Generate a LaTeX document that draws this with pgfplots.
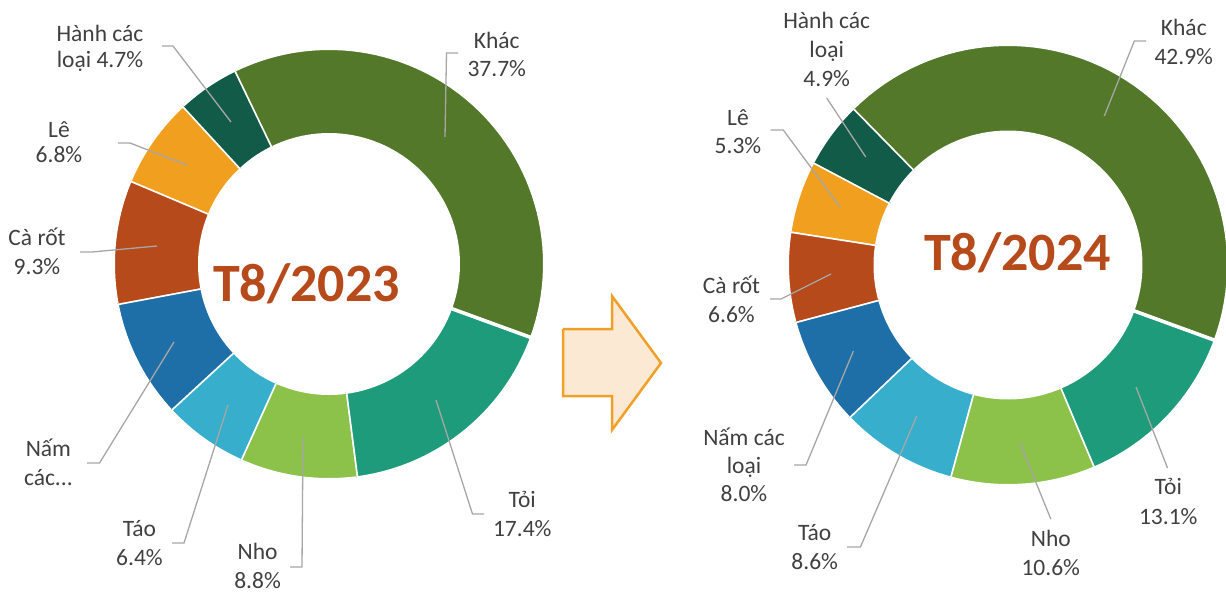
\documentclass[border=0pt]{standalone}
\usepackage{fontspec}
\setmainfont{Carlito}
\usepackage{pgfplots}
\pgfplotsset{compat=1.18}

\definecolor{khac}{HTML}{54782A}
\definecolor{toi}{HTML}{1E9B7A}
\definecolor{nho}{HTML}{8CC14A}
\definecolor{tao}{HTML}{36AECC}
\definecolor{nam}{HTML}{1E6FA8}
\definecolor{carot}{HTML}{B64A1A}
\definecolor{le}{HTML}{F0A01E}
\definecolor{hanh}{HTML}{125B48}
\definecolor{lbl}{HTML}{404040}
\definecolor{lead}{HTML}{A6A6A6}
\definecolor{arrowfill}{HTML}{FCE9D4}
\definecolor{arrowdraw}{HTML}{F0A028}

% ring centre, outer and inner radius (px); first slice starts at -20 deg, clockwise
\newcommand\ring[4]{\xdef\cx{#1}\xdef\cy{#2}\xdef\Ro{#3}\xdef\Ri{#4}\xdef\angA{-20}}
\newcommand\slice[2]{%
  \pgfmathsetmacro\angB{(\angA)-3.6*#1}%
  \edef\temp{\noexpand\addplot[fill=#2, draw=white, line width=3.6pt, line join=round,
      domain=0:2, samples=121, variable=\noexpand\t]
    ({\cx+(\noexpand\t<1.005 ? \Ro : \Ri)*cos(\noexpand\t<1.005 ? (\angA)+((\angB)-(\angA))*\noexpand\t : (\angB)+((\angA)-(\angB))*(\noexpand\t-61/60)*60/59)},
     {\cy-(\noexpand\t<1.005 ? \Ro : \Ri)*sin(\noexpand\t<1.005 ? (\angA)+((\angB)-(\angA))*\noexpand\t : (\angB)+((\angA)-(\angB))*(\noexpand\t-61/60)*60/59)});}%
  \temp
  \xdef\angA{\angB}%
}
\newcommand\lab[3]{\node[anchor=base, text=lbl, inner sep=0pt] at (axis cs:#1,#2) {#3};}
\newcommand\lfont{\fontsize{23.5}{28.5}\selectfont}

\begin{document}
\begin{tikzpicture}
\begin{axis}[
  scale only axis,
  width=1226pt, height=592pt,
  xmin=0, xmax=1226, ymin=0, ymax=592,
  y dir=reverse,
  hide axis,
  clip=false,
]
% ---- T8/2023 ----
\ring{329}{264}{215.8}{129.2}
\slice{17.4}{toi}
\slice{8.8}{nho}
\slice{6.4}{tao}
\slice{8.9}{nam}
\slice{9.3}{carot}
\slice{6.8}{le}
\slice{4.7}{hanh}
\slice{37.7}{khac}

% ---- T8/2024 ----
\ring{1008}{265}{220.8}{132.7}
\slice{13.1}{toi}
\slice{10.6}{nho}
\slice{8.6}{tao}
\slice{8.0}{nam}
\slice{6.6}{carot}
\slice{5.3}{le}
\slice{4.9}{hanh}
\slice{42.9}{khac}

% arrow between the charts
\addplot[fill=arrowfill, draw=arrowdraw, line width=2.5pt, line join=miter]
  coordinates {(563,329) (612,329) (612,296) (661,363) (612,430) (612,396) (563,396) (563,329)};

% leader lines, left
\addplot[lead, line width=1.3pt] coordinates {(162,46) (173,46) (231,122)};
\addplot[lead, line width=1.3pt] coordinates {(118,143) (130,143) (187,165)};
\addplot[lead, line width=1.3pt] coordinates {(80,252) (92,252) (157,246)};
\addplot[lead, line width=1.3pt] coordinates {(87,463) (99.5,463) (174,342)};
\addplot[lead, line width=1.3pt] coordinates {(172,543) (184,543) (228,405)};
\addplot[lead, line width=1.3pt] coordinates {(290,567) (302,567) (303,437)};
\addplot[lead, line width=1.3pt] coordinates {(484,514) (472.5,514) (436,400)};
\addplot[lead, line width=1.3pt] coordinates {(458,53) (446.5,53) (445,137)};
% leader lines, right
\addplot[lead, line width=1.3pt] coordinates {(826.7,98) (865.7,157)};
\addplot[lead, line width=1.3pt] coordinates {(770.7,130) (783.3,130) (840,207)};
\addplot[lead, line width=1.3pt] coordinates {(770,299) (781,299) (831,274)};
\addplot[lead, line width=1.3pt] coordinates {(794,465) (806,465) (853.4,351)};
\addplot[lead, line width=1.3pt] coordinates {(847,547) (860.4,547) (916.8,416)};
\addplot[lead, line width=1.3pt] coordinates {(1050.8,519) (1019.5,442)};
\addplot[lead, line width=1.3pt] coordinates {(1167.5,468) (1136,387)};
\addplot[lead, line width=1.3pt] coordinates {(1146,41) (1134.3,41) (1104.3,116)};

% titles
\node[anchor=base, text=carot, inner sep=0pt, font=\fontsize{54}{60}\selectfont\bfseries] at (axis cs:306.5,301.7) {T8/2023};
\node[anchor=base, text=carot, inner sep=0pt, font=\fontsize{54}{60}\selectfont\bfseries] at (axis cs:1017.5,270) {T8/2024};

% labels, left
\lab{100}{41.7}{\lfont Hành các}
\lab{100}{67}{\lfont loại 4.7\%}
\lab{59}{137}{\lfont Lê}
\lab{59}{162.5}{\lfont 6.8\%}
\lab{37}{245.7}{\lfont Cà rốt}
\lab{37}{274}{\lfont 9.3\%}
\lab{48.4}{456.7}{\lfont Nấm}
\lab{48.4}{485}{\lfont các...}
\lab{139.5}{536.7}{\lfont Táo}
\lab{139.5}{565.3}{\lfont 6.4\%}
\lab{257.6}{559.3}{\lfont Nho}
\lab{257.6}{588}{\lfont 8.8\%}
\lab{522.3}{507.3}{\lfont Tỏi}
\lab{522.3}{536.7}{\lfont 17.4\%}
\lab{496.8}{48.3}{\lfont Khác}
\lab{496.8}{76.7}{\lfont 37.7\%}
% labels, right
\lab{826.7}{28.3}{\lfont Hành các}
\lab{826.7}{57.3}{\lfont loại}
\lab{826.7}{86}{\lfont 4.9\%}
\lab{738}{125}{\lfont Lê}
\lab{738}{153.3}{\lfont 5.3\%}
\lab{731.5}{293.3}{\lfont Cà rốt}
\lab{731.5}{322.3}{\lfont 6.6\%}
\lab{744}{445}{\lfont Nấm các}
\lab{744}{473.3}{\lfont loại}
\lab{744}{501.7}{\lfont 8.0\%}
\lab{814.7}{540}{\lfont Táo}
\lab{814.7}{569.3}{\lfont 8.6\%}
\lab{1050.8}{546.7}{\lfont Nho}
\lab{1050.8}{575.7}{\lfont 10.6\%}
\lab{1168.3}{494}{\lfont Tỏi}
\lab{1168.3}{524.3}{\lfont 13.1\%}
\lab{1183.8}{35}{\lfont Khác}
\lab{1183.8}{64}{\lfont 42.9\%}
\end{axis}
\pgfresetboundingbox
\path (0,0) rectangle (1226pt,592pt);
\end{tikzpicture}
\end{document}
